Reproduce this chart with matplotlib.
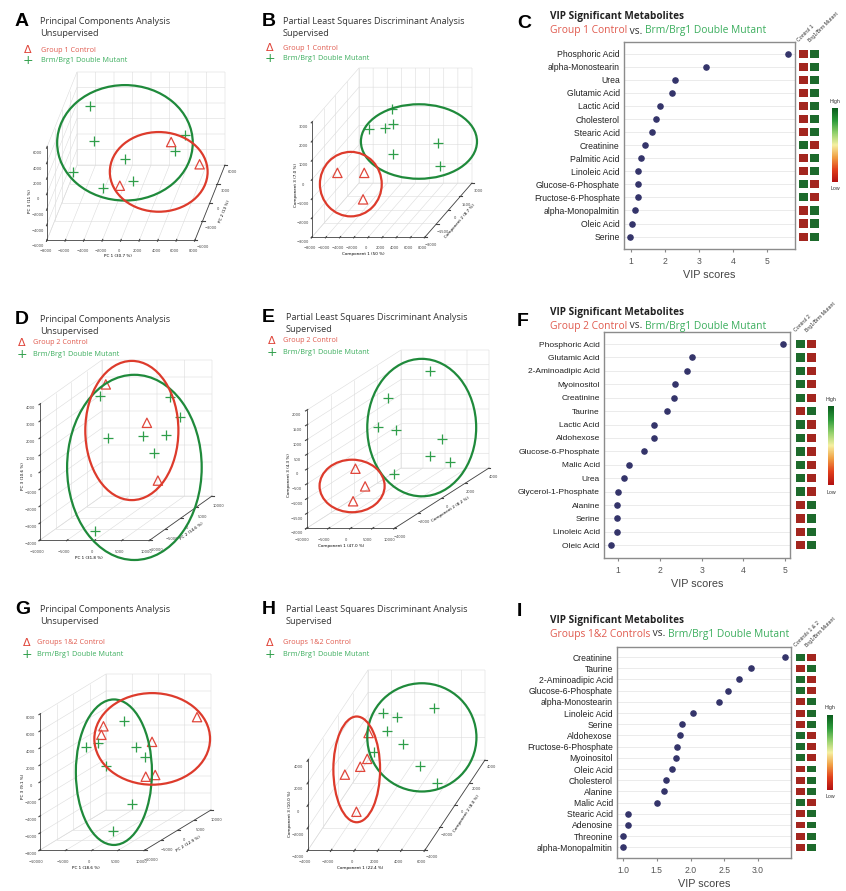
import numpy as np
import matplotlib
matplotlib.use("Agg")
import matplotlib.pyplot as plt
from matplotlib.patches import Ellipse
from matplotlib.colors import LinearSegmentedColormap
from mpl_toolkits.mplot3d import proj3d

plt.rcParams['grid.color'] = '#dcdcdc'
plt.rcParams['grid.linewidth'] = 0.4

# ---- score plot data (x, y, z) ----
a_ctrl = ([3800, 7200, -1100], [0, -1200, -2400], [1800, -100, -1900])
a_mut = ([-6000, -4500, -6200, -2900, -1200, 0, 4200, 5000],
         [3600, 0, -2400, -2400, 0, -1200, 0, 1200],
         [3600, 1900, -100, -2200, -400, -2300, 700, 1800])
b_ctrl = ([-6400, -2600, -2100], [-1200, -1200, -1800], [-500, -500, -1600])
b_mut = ([-600, -3200, -1000, 200, 200, 5900, 6200],
         [600, 0, 0, 0, 0, 600, 600],
         [2000, 1200, 1300, 1500, -100, 200, -1000])
d_ctrl = ([-4800, 3800, 5800], [2000, 0, 0], [3600, 1600, -1800])
d_mut = ([-5800, -3200, 3000, 7200, 7600, 5000, 5800, -1200],
         [2000, 0, 0, 0, 4000, 0, 4000, -8000],
         [2900, 700, 800, 900, 1400, -200, 2600, -3700])
e_ctrl = ([-5400, -3200, -3800], [-1600, -1600, -2400], [-600, -1200, -1500])
e_mut = ([800, -4400, -4600, -2600, 1400, 800, 3200, -3000],
         [2400, 800, 0, 800, 3200, 2400, 3200, 800],
         [1700, 1200, 400, 100, -800, -1200, -1600, -1400])
g_ctrl = ([8600, -4200, -4600, 3800, 2600, 4400], [8000, 0, 0, 2000, 2000, 2000],
          [3400, 4200, 3200, 1900, -2200, -2000])
g_mut = ([-1600, -6200, -4000, 2000, 3800, -2400, 2400, 1400],
         [2000, -2000, -2000, 0, 0, -2000, -2000, -6000],
         [4300, 2200, 2700, 1800, 600, 0, -4500, -6700])
h_ctrl = ([-1900, -1500, -2100, -2900, -1400], [800, 0, 0, -800, -1600],
          [1600, 100, -600, -500, -3000])
h_mut = ([-1200, 0, -300, 1000, -900, 2700, 2500, 4500],
         [1600, 1600, 800, 800, 0, 2400, 800, 0],
         [2600, 2200, 1800, 600, 700, 2200, -1300, -2000])

# ---- VIP data ----
c_names = ["Phosphoric Acid", "alpha-Monostearin", "Urea", "Glutamic Acid", "Lactic Acid",
           "Cholesterol", "Stearic Acid", "Creatinine", "Palmitic Acid", "Linoleic Acid",
           "Glucose-6-Phosphate", "Fructose-6-Phosphate", "alpha-Monopalmitin", "Oleic Acid", "Serine"]
c_scores = [5.6, 3.2, 2.3, 2.2, 1.85, 1.72, 1.62, 1.4, 1.3, 1.2, 1.2, 1.2, 1.1, 1.02, 0.97]
c_ctrl_high = [0, 0, 0, 0, 0, 0, 0, 1, 0, 0, 1, 1, 0, 0, 0]

f_names = ["Phosphoric Acid", "Glutamic Acid", "2-Aminoadipic Acid", "Myoinositol", "Creatinine",
           "Taurine", "Lactic Acid", "Aldohexose", "Glucose-6-Phosphate", "Malic Acid", "Urea",
           "Glycerol-1-Phosphate", "Alanine", "Serine", "Linoleic Acid", "Oleic Acid"]
f_scores = [4.95, 2.78, 2.65, 2.37, 2.35, 2.18, 1.87, 1.87, 1.62, 1.25, 1.13, 1.0, 0.98, 0.98, 0.97, 0.83]
f_ctrl_high = [1, 1, 1, 1, 1, 0, 1, 1, 1, 1, 1, 1, 0, 0, 0, 0]

i_names = ["Creatinine", "Taurine", "2-Aminoadipic Acid", "Glucose-6-Phosphate", "alpha-Monostearin",
           "Linoleic Acid", "Serine", "Aldohexose", "Fructose-6-Phosphate", "Myoinositol", "Oleic Acid",
           "Cholesterol", "Alanine", "Malic Acid", "Stearic Acid", "Adenosine", "Threonine",
           "alpha-Monopalmitin"]
i_scores = [3.4, 2.9, 2.72, 2.55, 2.42, 2.03, 1.87, 1.85, 1.8, 1.78, 1.73, 1.63, 1.6, 1.5,
            1.08, 1.07, 1.0, 1.0]
i_ctrl_high = [1, 0, 1, 1, 0, 0, 0, 1, 1, 1, 0, 0, 0, 1, 0, 0, 0, 0]

RED = '#e0463b'
GREEN = '#2f9e4a'
RED_TXT = '#e05a4e'
GREEN_TXT = '#3cae5e'
ELL_RED = '#dd3b2c'
ELL_GREEN = '#1f8a3b'
NAVY = '#34346a'
CELL_RED = '#a3261f'
CELL_GREEN = '#1d6a2c'
TITLE_FONT = 'Open Sans'

W, H = 846, 891
fig = plt.figure(figsize=(W / 100, H / 100), dpi=100)


def rect(x0, y0, x1, y1):
    return [x0 / W, 1 - y1 / H, (x1 - x0) / W, (y1 - y0) / H]


def ftext(px, py, s, **kw):
    return fig.text(px / W, 1 - py / H, s, **kw)


def header(letter, lx, tx, ty, lines, legend=None):
    ftext(lx, ty, letter, fontsize=14, fontweight='bold', family='Liberation Sans',
          va='center', ha='left')
    for k, line in enumerate(lines):
        ftext(tx, ty + 12 * k, line, fontsize=6.6, family=TITLE_FONT, color='#333333', va='center')
    if legend:
        sx, txx, ly, label = legend
        ftext(sx, ly, '\u0394', fontsize=8, color=RED, ha='center', va='center')
        ftext(txx, ly, label, fontsize=5.2, family=TITLE_FONT, color=RED_TXT, va='center')
        ftext(sx, ly + 11, '+', fontsize=9, color=GREEN, ha='center', va='center')
        ftext(txx, ly + 11, 'Brm/Brg1 Double Mutant', fontsize=5.2, family=TITLE_FONT,
              color=GREEN_TXT, va='center')


def oblique(ax, frame):
    # oblique box like the original software: front face flat, depth drawn as a slanted vector
    left, bottom, fw, fh, ddx, ddy = frame
    base = ax.get_proj

    def get_proj():
        M = base().copy()
        (x0, x1), (y0, y1), (z0, z1) = ax.get_xlim(), ax.get_ylim(), ax.get_zlim()
        dx, dy, dz = x1 - x0, y1 - y0, z1 - z0
        by = H - bottom
        P = np.array([[fw / dx, ddx / dy, 0, left - fw * x0 / dx - ddx * y0 / dy],
                      [0, ddy / dy, fh / dz, by - ddy * y0 / dy - fh * z0 / dz],
                      [0, 0, 0, 1]])
        Q = np.linalg.inv(ax.transData.get_affine().get_matrix()) @ P
        M[0] = Q[0] * M[3, 3]
        M[1] = Q[1] * M[3, 3]
        return M

    ax.get_proj = get_proj


def score_plot(box, frame, ctrl, mut, lims, ticks, labels):
    ax = fig.add_axes(rect(*box), projection='3d')
    ax.set_proj_type('ortho')
    ax.view_init(elev=20, azim=-80)
    ax.set_facecolor('none')
    ax.scatter(*ctrl, marker='^', facecolors='none', edgecolors=RED, s=45, linewidths=0.9,
               depthshade=False)
    ax.scatter(*mut, marker='+', color=GREEN, s=60, linewidths=0.9, depthshade=False)
    ax.set_xlim(*lims[0])
    ax.set_ylim(*lims[1])
    ax.set_zlim(*lims[2])
    ax.set_xticks(ticks[0])
    ax.set_yticks(ticks[1])
    ax.set_zticks(ticks[2])
    ax.set_xlabel(labels[0], fontsize=3, labelpad=-12)
    ax.set_ylabel(labels[1], fontsize=3, labelpad=-12)
    ax.set_zlabel(labels[2], fontsize=3, labelpad=-12)
    ax.zaxis.set_ticks_position('lower')
    ax.zaxis.set_label_position('lower')
    for axis in (ax.xaxis, ax.yaxis, ax.zaxis):
        axis.set_pane_color((1, 1, 1, 0))
        axis.pane.set_edgecolor('#777777')
        axis.pane.set_linewidth(0.6)
        axis.line.set_color('#444444')
        axis.line.set_linewidth(0.6)
        axis.set_tick_params(labelsize=2.6, pad=-3, colors='#444444')
    oblique(ax, frame)
    return ax


def vip_panel(box, heat_box, cbar_box, names, scores, ctrl_high, xlim, xticks, xtl, col_labels,
              label_size=6.2):
    n = len(names)
    y = np.arange(n)
    ylim = (n - 1 + 0.95, -0.9)
    ax = fig.add_axes(rect(*box))
    for yi in y:
        ax.axhline(yi, color='#e8e8e8', lw=0.6, zorder=0)
    ax.scatter(scores, y, s=14, color=NAVY, zorder=3)
    ax.set_xlim(*xlim)
    ax.set_ylim(*ylim)
    ax.set_yticks(y)
    ax.set_yticklabels(names, fontsize=label_size, family='Liberation Sans', color='#222222')
    ax.set_xticks(xticks)
    ax.set_xticklabels(xtl, fontsize=6.2, family='Liberation Sans', color='#555555')
    ax.tick_params(axis='y', length=0, pad=3)
    ax.tick_params(axis='x', length=2.5, color='#888888', pad=3)
    for sp in ax.spines.values():
        sp.set_color('#8c8c8c')
        sp.set_linewidth(1.0)
    ax.set_xlabel('VIP scores', fontsize=7.8, family='Liberation Sans', color='#444444', labelpad=3)

    hx = fig.add_axes(rect(*heat_box))
    high = np.array(ctrl_high)
    for col in (0, 1):
        on = high if col == 0 else 1 - high
        colors = [CELL_GREEN if v else CELL_RED for v in on]
        hx.barh(y, 0.86, left=col - 0.43, height=0.62, color=colors)
        hx.text(col - 0.3, -0.85, col_labels[col], rotation=45, fontsize=3.8,
                family='Liberation Sans', color='#333333', ha='left', va='bottom',
                rotation_mode='anchor')
    hx.set_xlim(-0.5, 1.5)
    hx.set_ylim(*ylim)
    hx.axis('off')

    cmap = LinearSegmentedColormap.from_list(
        'vip', ['#b31212', '#e2401c', '#f1a045', '#f6f0a2', '#92d06c', '#2c9a3a', '#0b5e1e'])
    cx = fig.add_axes(rect(*cbar_box))
    cx.imshow(np.linspace(0, 1, 100)[:, None], aspect='auto', cmap=cmap, origin='lower')
    cx.axis('off')
    x_mid = (cbar_box[0] + cbar_box[2]) / 2
    ftext(x_mid, cbar_box[1] - 7, 'High', fontsize=3.8, family='Liberation Sans',
          color='#333333', ha='center', va='center')
    ftext(x_mid, cbar_box[3] + 7, 'Low', fontsize=3.8, family='Liberation Sans',
          color='#333333', ha='center', va='center')


def vip_header(letter, lx, ly, tx, ty, group_label):
    ftext(lx, ly, letter, fontsize=14, fontweight='bold', family='Liberation Sans',
          va='center', ha='left')
    ftext(tx, ty, 'VIP Significant Metabolites', fontsize=7.2, fontweight='bold',
          family=TITLE_FONT, color='#222222', va='center')
    renderer = fig.canvas.get_renderer()
    x = tx
    for s, c in [(group_label, RED_TXT), (' vs. ', '#333333'), ('Brm/Brg1 Double Mutant', GREEN_TXT)]:
        t = ftext(x, ty + 14, s, fontsize=7.4, family=TITLE_FONT, color=c, va='center')
        x += t.get_window_extent(renderer).width


# ---- row 1 ----
header('A', 15, 40, 22, ['Principal Components Analysis', 'Unsupervised'],
       (28, 41, 50, 'Group 1 Control'))
header('B', 262, 283, 22, ['Partial Least Squares Discriminant Analysis', 'Supervised'],
       (270, 283, 48, 'Group 1 Control'))
ax_a = score_plot((11, 31, 261, 281), (47, 240, 148, 93, 30, 75), a_ctrl, a_mut,
                  ((-8000, 8000), (-6000, 6000), (-6000, 6000)),
                  (range(-8000, 8001, 2000), range(-6000, 6001, 3000), range(-6000, 6001, 2000)),
                  ('PC 1 (30.7 %)', 'PC 2 (13 %)', 'PC 3 (11 %)'))
ax_b = score_plot((272, 32, 512, 272), (312, 237, 113, 115, 47, 54), b_ctrl, b_mut,
                  ((-8000, 8000), (-3000, 3000), (-3000, 3000)),
                  (range(-8000, 8001, 2000), range(-3000, 3001, 1500), range(-3000, 3001, 1000)),
                  ('Component 1 (50 %)', 'Component 2 (8.7 %)', 'Component 3 (7.0 %)'))
vip_header('C', 517, 23, 550, 17, 'Group 1 Control')
vip_panel((624, 42, 795, 249), (798, 42, 820, 249), (832, 108, 838, 182),
          c_names, c_scores, c_ctrl_high, (0.79, 5.82), [1, 2, 3, 4, 5],
          ['1', '2', '3', '4', '5'], ['Control 1', 'Brg1/Brm Mutant'])

# ---- row 2 ----
header('D', 15, 40, 319, ['Principal Components Analysis', 'Unsupervised'],
       (22, 33, 343, 'Group 2 Control'))
header('E', 262, 286, 318, ['Partial Least Squares Discriminant Analysis', 'Supervised'],
       (272, 283, 341, 'Group 2 Control'))
ax_d = score_plot((6, 330, 246, 570), (40, 540, 110, 136, 62, 44), d_ctrl, d_mut,
                  ((-10000, 10000), (-10000, 10000), (-4000, 4000)),
                  (range(-10000, 10001, 5000), range(-10000, 10001, 5000), range(-4000, 4001, 1000)),
                  ('PC 1 (31.8 %)', 'PC 2 (14.6 %)', 'PC 3 (10.6 %)'))
ax_e = score_plot((278, 319, 518, 559), (307, 528, 88, 118, 94, 60), e_ctrl, e_mut,
                  ((-10000, 10000), (-4000, 4000), (-2000, 2000)),
                  (range(-10000, 10001, 5000), range(-4000, 4001, 2000), range(-2000, 2001, 500)),
                  ('Component 1 (47.0 %)', 'Component 2 (8.2 %)', 'Component 3 (4.3 %)'))
vip_header('F', 517, 321, 550, 312, 'Group 2 Control')
vip_panel((604, 332, 790, 558), (795, 332, 817, 558), (828, 406, 834, 485),
          f_names, f_scores, f_ctrl_high, (0.66, 5.12), [1, 2, 3, 4, 5],
          ['1', '2', '3', '4', '5'], ['Control 2', 'Brg1/Brm Mutant'], label_size=6.0)

# ---- row 3 ----
header('G', 15, 40, 609, ['Principal Components Analysis', 'Unsupervised'],
       (27, 37, 643, 'Groups 1&2 Control'))
header('H', 262, 286, 609, ['Partial Least Squares Discriminant Analysis', 'Supervised'],
       (270, 283, 643, 'Groups 1&2 Control'))
ax_g = score_plot((5, 642, 245, 882), (40, 850, 105, 136, 66, 40), g_ctrl, g_mut,
                  ((-10000, 10000), (-10000, 10000), (-8000, 8000)),
                  (range(-10000, 10001, 5000), range(-10000, 10001, 5000), range(-8000, 8001, 2000)),
                  ('PC 1 (18.6 %)', 'PC 2 (12.9 %)', 'PC 3 (9.1 %)'))
ax_h = score_plot((276, 637, 516, 877), (308, 850, 117, 90, 60, 90), h_ctrl, h_mut,
                  ((-4000, 6000), (-4000, 4000), (-4000, 4000)),
                  (range(-4000, 6001, 2000), range(-4000, 4001, 2000), range(-4000, 4001, 2000)),
                  ('Component 1 (22.4 %)', 'Component 2 (8.0 %)', 'Component 3 (10.0 %)'))
vip_header('I', 517, 611, 550, 620, 'Groups 1&2 Controls')
vip_panel((617, 647, 791, 858), (795, 647, 817, 858), (827, 715, 833, 790),
          i_names, i_scores, i_ctrl_high, (0.91, 3.49), [1.0, 1.5, 2.0, 2.5, 3.0],
          ['1.0', '1.5', '2.0', '2.5', '3.0'], ['Controls 1 & 2', 'Brg1/Brm Mutant'])

# ---- group ellipses around projected points ----
fig.canvas.draw()


def group_ellipse(ax, pts, color, style):
    shift_x, shift_y, pad_w, pad_h = style
    x2, y2, _ = proj3d.proj_transform(np.asarray(pts[0], float), np.asarray(pts[1], float),
                                      np.asarray(pts[2], float), ax.get_proj())
    disp = ax.transData.transform(np.column_stack([x2, y2]))
    x0, y0 = disp.min(axis=0)
    x1, y1 = disp.max(axis=0)
    cx = (x0 + x1) / 2 + shift_x
    cy = (y0 + y1) / 2 - shift_y
    e = Ellipse((cx / W, cy / H), (x1 - x0 + pad_w) / W, (y1 - y0 + pad_h) / H,
                transform=fig.transFigure, fill=False, edgecolor=color, linewidth=1.6)
    fig.add_artist(e)


# (shift x, shift y, extra width, extra height) in pixels for red / green rings
ell_styles = [(ax_a, a_ctrl, a_mut, (-1, 8, 18, 36), (-4, -4, 23, 33)),
              (ax_b, b_ctrl, b_mut, (0, -2, 35, 38), (14, 4, 45, 17)),
              (ax_d, d_ctrl, d_mut, (0, -2, 41, 43), (-3, 4, 49, 51)),
              (ax_e, e_ctrl, e_mut, (-7, 1, 53, 20), (8, 5, 37, 34)),
              (ax_g, g_ctrl, g_mut, (3, -8, 20, 32), (-2, -4, 17, 36)),
              (ax_h, h_ctrl, h_mut, (0, -3, 23, 27), (16, -8, 46, 34))]
for ax, ctrl, mut, sr, sg in ell_styles:
    group_ellipse(ax, mut, ELL_GREEN, sg)
    group_ellipse(ax, ctrl, ELL_RED, sr)

fig.savefig('out.png', dpi=100, facecolor='white')
